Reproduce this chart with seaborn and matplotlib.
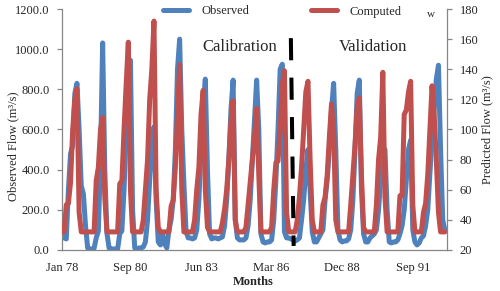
import numpy as np
import pandas as pd
import matplotlib
matplotlib.use("Agg")
import matplotlib.pyplot as plt
import seaborn as sns
from matplotlib.lines import Line2D

# ---------------- data ----------------
# monthly observed flow (left axis, m3/s), Jan 1978 .. Dec 1992
observed = [
    85, 60, 55, 300, 480, 520, 780, 830, 600, 320, 280, 120,      # 1978
    10, 5, 5, 8, 60, 95, 450, 1031, 400, 85, 10, 5,               # 1979
    5, 5, 5, 80, 95, 300, 600, 850, 945, 200, 10, 5,              # 1980
    10, 10, 15, 40, 150, 350, 550, 613, 250, 40, 25, 80,          # 1981
    30, 10, 100, 150, 250, 500, 900, 1050, 600, 330, 90, 60,      # 1982
    60, 55, 60, 100, 250, 500, 700, 851, 400, 80, 55, 60,         # 1983
    60, 55, 60, 65, 120, 250, 450, 700, 846, 150, 60, 50,         # 1984
    50, 50, 60, 120, 250, 450, 650, 846, 600, 80, 40, 35,         # 1985
    40, 40, 50, 150, 350, 600, 900, 925, 90, 60, 60, 55,          # 1986
    50, 45, 50, 60, 150, 250, 400, 500, 300, 90, 40, 40,          # 1987
    60, 80, 100, 250, 350, 500, 700, 830, 500, 100, 50, 40,       # 1988
    45, 45, 55, 100, 250, 500, 780, 846, 300, 80, 40, 40,         # 1989
    60, 70, 80, 100, 200, 350, 480, 500, 200, 40, 35, 40,         # 1990
    40, 50, 80, 120, 200, 350, 500, 547, 100, 40, 25, 35,         # 1991
    60, 70, 120, 200, 380, 550, 700, 850, 920, 500, 150, 100,     # 1992
]
# monthly computed (predicted) flow (right axis, m3/s)
computed = [
    32, 32, 50, 51, 65, 100, 120, 127, 45, 32, 32, 32,            # 1978
    32, 32, 32, 32, 66, 75, 100, 108, 55, 32, 32, 32,             # 1979
    32, 32, 32, 64, 66, 100, 130, 158, 60, 32, 32, 32,            # 1980
    32, 32, 40, 60, 80, 120, 140, 172, 60, 35, 32, 32,            # 1981
    32, 32, 32, 49, 53, 75, 110, 143, 60, 32, 32, 32,             # 1982
    32, 32, 40, 60, 75, 110, 126, 60, 35, 32, 32, 32,             # 1983
    32, 32, 32, 38, 47, 60, 80, 105, 119, 40, 32, 32,             # 1984
    32, 32, 35, 50, 65, 80, 95, 114, 70, 32, 32, 32,              # 1985
    32, 32, 35, 60, 78, 79, 100, 130, 139, 45, 32, 32,            # 1986
    32, 32, 40, 55, 75, 100, 125, 132, 80, 40, 32, 32,            # 1987
    32, 32, 50, 55, 70, 95, 117, 100, 40, 32, 32, 32,             # 1988
    32, 32, 32, 50, 70, 90, 115, 121, 70, 35, 32, 32,             # 1989
    32, 32, 32, 50, 80, 95, 138, 55, 32, 32, 32, 32,              # 1990
    32, 32, 56, 56, 110, 113, 125, 132, 50, 32, 32, 32,           # 1991
    32, 45, 51, 70, 100, 129, 110, 80, 45, 32, 32, 32,            # 1992
]
month_index = list(range(len(observed)))

tick_months = [0, 32, 65, 98, 131, 164]
tick_labels = ["Jan 78", "Sep 80", "Jun 83", "Mar 86", "Dec 88", "Sep 91"]

left_ticks = [0, 200, 400, 600, 800, 1000, 1200]
right_ticks = [20, 40, 60, 80, 100, 120, 140, 160, 180]

divider_x = [107.0, 108.3]      # calibration / validation split
divider_y = [1055, 20]

df = pd.DataFrame({"month": month_index, "Observed": observed, "Computed": computed})

# ---------------- style ----------------
sns.set_style("white")
plt.rcParams["font.family"] = ["Liberation Serif", "DejaVu Serif"]
plt.rcParams["font.size"] = 9

BLUE = "#4F81BD"
RED = "#C0504D"
GRAY = "#868686"
LW = 3.6

fig = plt.figure(figsize=(5.0, 2.91), dpi=100)
ax = fig.add_axes([0.124, 0.141, 0.77, 0.828])
ax2 = ax.twinx()

sns.lineplot(data=df, x="month", y="Observed", ax=ax, color=BLUE, linewidth=LW,
             solid_joinstyle="round", solid_capstyle="round", legend=False)
sns.lineplot(data=df, x="month", y="Computed", ax=ax2, color=RED, linewidth=LW,
             solid_joinstyle="round", solid_capstyle="round", legend=False)

ax.set_xlim(0, 180)
ax.set_ylim(0, 1200)
ax2.set_ylim(20, 180)

# dashed divider (drawn on top of both series, in left-axis units)
ax2.plot(divider_x, divider_y, color="black", linewidth=2.9,
         linestyle=(0, (5.5, 4.3)), zorder=5, transform=ax.transData)

ax.set_xticks(tick_months)
ax.set_xticklabels(tick_labels)
ax.set_yticks(left_ticks)
ax.set_yticklabels([f"{v:.1f}" for v in left_ticks])
ax2.set_yticks(right_ticks)
ax2.set_yticklabels([str(v) for v in right_ticks])

ax.set_xlabel("Months", fontweight="bold")
ax.set_ylabel("Observed Flow (m³/s)")
ax2.set_ylabel("Predicted Flow (m³/s)", rotation=90)
ax.xaxis.set_label_coords((253 - 62) / 385, -(282.5 - 250) / 241)
ax.yaxis.set_label_coords((13 - 62) / 385, 0.43)
ax2.yaxis.set_label_coords((487 - 62) / 385, 0.5)
ax.xaxis.label.set_va("center")
ax.yaxis.label.set_va("center")
ax2.yaxis.label.set_va("center")

for a in (ax, ax2):
    for s in a.spines.values():
        s.set_color(GRAY)
        s.set_linewidth(0.9)
    a.spines["top"].set_visible(False)
    a.tick_params(axis="y", direction="out", length=3.5, width=0.9, color=GRAY,
                  labelsize=9, pad=5.5)
ax.tick_params(axis="x", direction="out", length=3.5, width=0.9, color=GRAY,
               labelsize=9, pad=5)
ax.spines["right"].set_visible(False)
ax2.spines["left"].set_visible(False)
ax2.spines["bottom"].set_visible(False)

# region labels
ax.text(83, 1010, "Calibration", fontsize=12, ha="center", va="center")
ax.text(145.5, 1010, "Validation", fontsize=12, ha="center", va="center")
ax.text(172.3, 1172, "w", fontsize=8, ha="center", va="center")

handles = [Line2D([0], [0], color=BLUE, linewidth=LW),
           Line2D([0], [0], color=RED, linewidth=LW)]
fig.legend(handles, ["Observed", "Computed"], loc="center left",
           bbox_to_anchor=(163 / 500, 1 - 11.5 / 291), ncol=2, frameon=False,
           borderpad=0, borderaxespad=0, handlelength=2.1, handletextpad=1.0,
           columnspacing=4.9, fontsize=9)

fig.savefig("out.png", dpi=100)
